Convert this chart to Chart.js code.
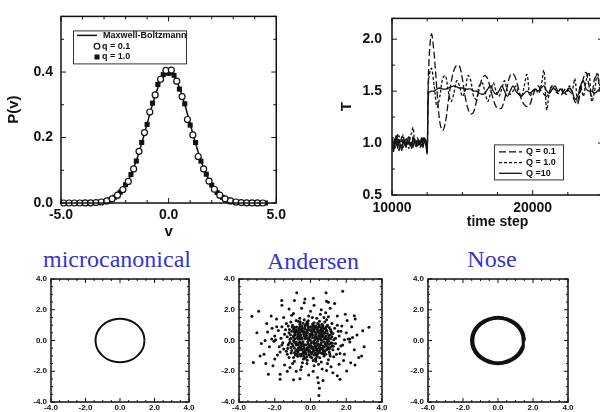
<!DOCTYPE html>
<html><head><meta charset="utf-8">
<script src="https://cdn.jsdelivr.net/npm/chart.js@4.4.1/dist/chart.umd.min.js"></script>
<style>
html,body{margin:0;padding:0;background:#fff;}
body{width:600px;height:412px;overflow:hidden;position:relative;}
canvas{position:absolute;}
.ttl{position:absolute;width:200px;text-align:center;font-family:'Liberation Serif','Times New Roman',serif;font-size:24px;line-height:27px;color:#3434d2;white-space:nowrap;}
</style></head>
<body>
<div class="ttl" style="left:17px;top:246px">microcanonical</div>
<div class="ttl" style="left:213px;top:248px">Andersen</div>
<div class="ttl" style="left:392px;top:246px">Nose</div>
<canvas id="pv" width="290" height="245" style="left:0;top:0"></canvas>
<canvas id="temp" width="350" height="245" style="left:300px;top:0"></canvas>
<canvas id="ph1" width="200" height="150" style="left:0;top:270px"></canvas>
<canvas id="ph2" width="200" height="150" style="left:200px;top:270px"></canvas>
<canvas id="ph3" width="200" height="150" style="left:400px;top:270px"></canvas>
<script>
// ---------- Panel 1: velocity distribution ----------
const mbVelocity = [-4.25,-4.0,-3.75,-3.5,-3.25,-3.0,-2.75,-2.5,-2.25,-2.0,-1.75,-1.5,-1.25,-1.0,-0.75,-0.5,-0.25,0,0.25,0.5,0.75,1.0,1.25,1.5,1.75,2.0,2.25,2.5,2.75,3.0,3.25,3.5,3.75,4.0,4.25,4.5];
const mbProb = [0.0001,0.0001,0.0004,0.0009,0.002,0.0044,0.0091,0.0175,0.0317,0.054,0.0863,0.1295,0.1826,0.242,0.3011,0.3521,0.3867,0.3989,0.3867,0.3521,0.3011,0.242,0.1826,0.1295,0.0863,0.054,0.0317,0.0175,0.0091,0.0044,0.002,0.0009,0.0004,0.0001,0.0001,0];
const q01Velocity = [-4.875,-4.625,-4.375,-4.125,-3.875,-3.625,-3.375,-3.125,-2.875,-2.625,-2.375,-2.125,-1.875,-1.625,-1.375,-1.125,-0.875,-0.625,-0.375,-0.125,0.125,0.375,0.625,0.875,1.125,1.375,1.625,1.875,2.125,2.375,2.625,2.875,3.125,3.375,3.625,3.875,4.125,4.375];
const q01Prob = [0,0,0,0,0.0002,0.0006,0.0013,0.003,0.0064,0.0127,0.024,0.041,0.066,0.104,0.158,0.215,0.278,0.33,0.378,0.405,0.406,0.372,0.325,0.255,0.208,0.142,0.104,0.067,0.042,0.024,0.0127,0.0064,0.003,0.0013,0.0006,0.0002,0.0001,0];
const q1Velocity = [-4.0,-3.75,-3.5,-3.25,-3.0,-2.75,-2.5,-2.25,-2.0,-1.75,-1.5,-1.25,-1.0,-0.75,-0.5,-0.25,0,0.25,0.5,0.75,1.0,1.25,1.5,1.75,2.0,2.25,2.5,2.75,3.0,3.25,3.5,3.75,4.0,4.25,4.5];
const q1Prob = [0.0001,0.0004,0.0009,0.002,0.0045,0.009,0.018,0.033,0.056,0.087,0.128,0.185,0.24,0.305,0.362,0.392,0.396,0.39,0.348,0.303,0.238,0.185,0.128,0.088,0.055,0.032,0.0175,0.009,0.0044,0.002,0.0009,0.0004,0.0001,0,0];
const pvXLabels = [-5, 0, 5];
const pvYLabels = [0, 0.2, 0.4];

// ---------- Panel 2: temperature vs time step ----------
const timeSteps = [10000,10100,10200,10300,10400,10500,10600,10700,10800,10900,11000,11100,11200,11300,11400,11500,11600,11700,11800,11900,12000,12100,12200,12300,12400,12500,
 12600,12800,13000,13200,13400,13600,13800,14000,14200,14400,
 14600,14800,15000,15200,15400,15600,15800,16000,16200,16400,
 16600,16800,17000,17200,17400,17600,17800,18000,18200,18400,
 18600,18800,19000,19200,19400,19600,19800,20000,20200,20400,
 20600,20800,21000,21200,21400,21600,21800,22000,22200,22400,
 22600,22800,23000,23200,23400,23600,23800,24000,24200,24400,
 24600,24800,25000];
const tempQ01 = [1.02,0.95,1.05,0.98,1.08,0.93,1.00,1.06,0.96,1.03,0.97,1.05,0.99,1.02,0.95,1.07,1.00,0.96,1.04,0.98,1.02,0.97,1.05,1.00,1.03,0.92,
 1.70,2.05,1.85,1.50,1.20,1.12,1.20,1.40,1.58,1.70,
 1.75,1.74,1.62,1.45,1.33,1.28,1.30,1.40,1.52,1.62,
 1.65,1.62,1.52,1.42,1.35,1.33,1.34,1.42,1.55,1.65,
 1.67,1.62,1.52,1.42,1.37,1.35,1.37,1.45,1.52,1.55,
 1.50,1.47,1.45,1.50,1.55,1.52,1.48,1.46,1.50,1.53,
 1.50,1.47,1.40,1.38,1.50,1.62,1.68,1.55,1.45,1.62,
 1.65,1.50,1.48];
const tempQ1 = [0.98,1.05,0.94,1.03,0.99,1.07,0.95,1.02,1.08,0.97,1.04,1.00,0.95,1.06,1.10,1.15,1.02,0.97,1.05,1.00,0.96,1.04,0.98,1.06,1.00,0.95,
 1.60,1.72,1.55,1.35,1.45,1.62,1.65,1.50,1.40,1.48,
 1.60,1.55,1.45,1.50,1.65,1.60,1.45,1.42,1.55,1.58,
 1.50,1.40,1.48,1.58,1.50,1.45,1.52,1.60,1.50,1.47,
 1.50,1.55,1.48,1.45,1.55,1.66,1.45,1.50,1.52,1.48,
 1.55,1.70,1.32,1.50,1.55,1.50,1.48,1.53,1.50,1.47,
 1.55,1.50,1.62,1.38,1.55,1.45,1.60,1.68,1.40,1.50,
 1.68,1.55,1.62];
const tempQ10 = [1.05,0.92,1.00,1.07,0.95,1.02,0.98,0.93,1.04,1.00,0.96,1.03,1.06,0.97,1.01,0.96,1.04,1.00,0.97,1.03,0.99,1.05,0.96,1.02,0.98,0.90,
 1.48,1.50,1.50,1.52,1.53,1.52,1.52,1.53,1.54,1.55,
 1.54,1.53,1.53,1.52,1.52,1.52,1.50,1.50,1.48,1.47,
 1.48,1.52,1.55,1.50,1.47,1.50,1.55,1.50,1.45,1.50,
 1.55,1.50,1.47,1.45,1.48,1.50,1.48,1.50,1.52,1.50,
 1.53,1.55,1.50,1.48,1.52,1.55,1.50,1.52,1.48,1.50,
 1.53,1.50,1.42,1.45,1.55,1.60,1.52,1.50,1.50,1.48,
 1.50,1.52,1.50];
const tXLabels = [10000, 20000];
const tYLabels = [0.5, 1.0, 1.5, 2.0];

// ---------- Panels 3-5: phase space ----------
const microX = [1.42,1.37,1.23,1.0,0.71,0.37,0,-0.37,-0.71,-1.0,-1.23,-1.37,-1.42,-1.37,-1.23,-1.0,-0.71,-0.37,0,0.37,0.71,1.0,1.23,1.37,1.42];
const microY = [0,0.37,0.71,1.0,1.23,1.37,1.42,1.37,1.23,1.0,0.71,0.37,0,-0.37,-0.71,-1.0,-1.23,-1.37,-1.42,-1.37,-1.23,-1.0,-0.71,-0.37,0];
const noseX = [1.55,1.46,1.19,0.78,0.27,-0.27,-0.78,-1.19,-1.46,-1.55,-1.46,-1.19,-0.78,-0.27,0.27,0.78,1.19,1.46,
 1.47,1.38,1.13,0.74,0.25,-0.25,-0.73,-1.12,-1.37,-1.46,-1.37,-1.12,-0.73,-0.25,0.25,0.73,1.12,1.37,
 1.40,1.32,1.07,0.70,0.24,-0.24,-0.70,-1.07,-1.32,-1.40,-1.32,-1.07,-0.70,-0.24,0.24,0.70,1.07,1.32,1.52];
const noseY = [0,0.53,1.0,1.34,1.53,1.53,1.34,1.0,0.53,0,-0.53,-1.0,-1.34,-1.53,-1.53,-1.34,-1.0,-0.53,
 0,0.50,0.94,1.26,1.44,1.45,1.27,0.95,0.50,0,-0.50,-0.94,-1.26,-1.44,-1.44,-1.26,-0.94,-0.50,
 0,0.48,0.90,1.21,1.38,1.38,1.21,0.90,0.48,0,-0.48,-0.90,-1.21,-1.38,-1.38,-1.21,-0.90,-0.48,0];
const andersenPoints = [
[0.12,0.35],[-0.45,0.8],[0.9,-0.2],[-1.1,0.15],[0.33,-0.92],[-0.6,-0.4],[1.15,0.6],[-0.2,1.2],[0.55,0.1],[-0.85,-0.95],
[0.05,-0.15],[0.7,0.95],[-1.25,-0.3],[0.4,1.1],[-0.3,-1.15],[1.05,-0.75],[-0.7,0.45],[0.2,0.7],[-0.1,-0.6],[0.85,0.3],
[-0.5,0.1],[0.6,-0.55],[-0.95,0.75],[0.15,-1.3],[1.3,0.05],[-0.35,0.55],[0.45,-0.25],[-0.8,-0.1],[0.95,1.0],[-1.05,-0.65],
[0.25,0.05],[-0.15,0.95],[0.75,-1.0],[-0.6,1.05],[1.2,-0.35],[-0.25,-0.3],[0.5,0.5],[-1.2,0.5],[0.1,-0.8],[0.65,0.25],
[-0.4,-0.75],[0.9,0.65],[-0.75,0.2],[0.3,-0.45],[-0.05,0.4],[1.0,-0.05],[-0.9,-0.5],[0.4,0.85],[-0.55,-1.0],[0.8,-0.7],
[-0.2,0.15],[0.15,1.0],[-1.0,1.0],[0.6,-0.15],[-0.45,-0.2],[1.1,0.35],[-0.3,0.75],[0.0,-1.05],[0.7,0.6],[-1.15,-0.1],
[0.35,-0.65],[-0.65,0.65],[1.25,-0.6],[-0.1,-0.4],[0.5,1.25],[-0.85,0.35],[0.2,-0.2],[0.95,-0.4],[-0.5,-0.6],[0.05,0.6],
[-1.3,0.25],[0.75,0.1],[-0.25,-0.9],[0.45,0.3],[-0.7,-0.75],[1.05,0.85],[-0.15,1.1],[0.3,-1.15],[-0.95,0.0],[0.6,0.75],
[-0.35,0.3],[0.85,-0.9],[-0.6,0.9],[0.1,0.2],[1.15,-0.15],[-0.8,-0.3],[0.25,0.55],[-0.4,-1.2],[0.55,-0.8],[-1.05,0.6],
[0.0,0.0],[0.4,-0.05],[-0.2,0.6],[0.7,-0.35],[-0.55,0.35],[0.15,-0.55],[0.95,0.45],[-0.9,0.85],[0.3,0.95],[-0.1,-0.75],
[0.8,0.5],[-0.65,-0.15],[0.2,-0.95],[-0.3,1.0],[1.2,0.25],[-0.75,-0.6],[0.5,-0.4],[-0.05,0.25],[0.65,1.05],[-1.1,-0.45],
[0.35,0.15],[-0.45,0.6],[0.9,-0.6],[-0.15,-0.1],[0.1,0.8],[-0.85,0.55],[0.6,0.4],[-0.35,-0.5],[1.0,0.2],[-0.6,-0.9],
[0.25,-0.35],[-0.95,0.3],[0.45,0.65],[-0.2,-1.05],[0.75,-0.1],[-0.5,0.95],[0.05,-0.5],[1.1,-0.45],[-0.7,0.1],[0.3,0.4],
[-0.25,0.45],[0.85,0.75],[-1.2,-0.2],[0.15,-0.7],[0.55,0.2],[-0.4,-0.35],[0.7,-0.75],[-0.8,0.7],[0.0,0.9],[0.4,-0.85],
[-0.6,0.25],[1.05,-0.25],[-0.1,0.05],[0.65,-0.5],[-0.9,-0.8],[0.2,1.15],[-0.3,-0.65],[0.9,0.1],[-0.55,-0.45],[0.5,0.9],
[0.18,-0.05],[-0.28,0.22],[0.62,0.58],[-0.72,-0.28],[0.08,0.48],[-0.42,-0.08],[0.52,-0.62],[-0.12,0.82],[0.92,-0.08],[-0.88,0.12],
[0.28,0.28],[-0.58,0.52],[0.78,-0.42],[-0.18,-0.48],[0.38,-1.02],[-1.02,-0.22],[0.68,0.82],[-0.48,-0.88],[1.12,0.12],[-0.08,-0.92],
[0.42,0.58],[-0.78,0.88],[0.22,-0.62],[-0.32,0.12],[0.98,-0.52],[-0.62,-0.62],[0.12,1.08],[-1.12,0.38],[0.58,-0.28],[-0.22,0.32],
[0.82,0.18],[-0.52,0.72],[0.32,-0.18],[-0.98,-0.38],[0.48,1.02],[-0.38,-1.02],[1.22,-0.18],[-0.02,0.68],[0.72,-0.62],[-0.68,0.32],
[0.02,-0.32],[-0.82,-0.68],[0.88,0.88],[-0.12,-0.22],[0.52,0.38],[-1.18,0.72],[0.28,-1.22],[-0.42,1.12],[1.08,-0.88],[-0.58,-0.12],
[0.62,0.02],[-0.28,-0.78],[0.18,0.92],[-0.92,0.58],[0.82,-0.22],[-0.08,0.12],[0.38,0.72],[-0.72,-1.02],[1.18,0.48],[-0.32,0.88],
[0.12,-0.42],[-0.52,-0.32],[0.72,0.42],[-1.08,-0.82],[0.48,-0.48],[-0.18,0.52],[0.92,0.62],[-0.62,0.08],[0.28,-0.82],[-0.38,0.42],
[1.02,0.32],[-0.82,-0.18],[0.08,-1.12],[-0.12,1.28],[0.58,0.68],[-1.28,-0.52],[0.42,0.12],[-0.48,0.18],[0.78,-0.88],[-0.22,-0.62],
[0.32,0.48],[-0.68,-0.48],[1.28,-0.38],[-0.02,-0.72],[0.68,0.28],[-0.88,0.42],[0.22,0.18],[-0.32,-0.28],[0.88,-0.32],[-1.02,0.88],
[0.52,-1.12],[-0.58,1.22],[0.02,0.38],[-0.78,-0.88],[1.12,0.72],[-0.42,0.62],[0.38,-0.32],[-0.18,-1.28],[0.98,0.02],[-0.92,-0.08],
[0.15,0.62],[-0.65,0.78],[0.45,-0.72],[-0.05,-0.35],[0.75,0.78],[-0.35,-0.85],[1.05,-0.55],[-0.95,0.22],[0.25,0.82],[-0.55,-0.25],
[0.65,-0.85],[-0.15,0.72],[0.85,0.12],[-0.75,0.58],[0.35,-0.55],[-0.45,-0.58],[0.55,0.88],[-1.15,0.08],[0.05,-0.88],[-0.25,1.05],
[1.35,0.8],[-1.4,0.7],[1.45,-0.9],[-1.3,-0.9],[0.9,1.35],[-0.8,1.3],[0.6,-1.4],[-0.9,-1.35],[1.6,0.3],[-1.55,-0.15],
[0.1,1.5],[-0.2,-1.5],[1.4,-0.2],[-1.45,0.4],[1.2,1.1],[-1.1,1.2],[1.0,-1.25],[-1.2,-1.1],[0.35,1.45],[-0.45,-1.45],
[1.55,-0.55],[-1.6,0.9],[0.75,1.5],[-0.6,1.45],[1.3,-1.05],[-1.5,-0.55],[0.45,-1.55],[-0.1,1.6],[1.7,0.6],[-1.65,0.15],
[0.95,-1.5],[-1.0,-1.5],[1.5,1.0],[-1.35,1.1],[0.2,-1.65],[1.8,-0.3],[-1.75,-0.4],[0.55,1.7],[-0.5,-1.7],[1.25,0.45],
[-1.25,0.95],[1.1,-1.0],[-0.95,-1.1],[0.8,1.2],[-0.7,1.25],[1.4,0.15],[-1.35,-0.7],[0.3,-1.35],[-0.35,1.35],[1.65,-0.85],
[2.0,0.5],[-2.0,0.3],[1.9,-0.9],[-1.85,-0.95],[0.6,2.0],[-0.5,2.1],[0.9,-1.95],[-0.8,-2.0],[2.2,-0.1],[-2.15,0.8],
[1.5,1.6],[-1.5,1.5],[1.6,-1.55],[-1.45,-1.6],[2.3,0.9],[-2.3,-0.4],[0.2,2.3],[-0.1,-2.25],[2.05,1.3],[-1.9,1.4],
[1.85,-1.3],[-2.0,-1.2],[1.1,2.1],[-1.2,2.05],[1.25,-2.1],[-1.3,-2.0],[2.45,-0.6],[-2.4,0.55],[0.4,-2.4],[-0.35,2.45],
[1.75,0.95],[-1.8,0.65],[1.7,-0.35],[-1.7,-0.75],[0.85,1.8],[-0.95,1.75],[0.65,-1.85],[-0.55,-1.9],[2.1,0.1],[-2.05,-0.05],
[1.95,1.7],[-2.2,1.6],[2.25,-1.45],[-2.1,-1.65],[1.35,2.4],[-1.6,2.3],[1.5,-2.3],[-1.7,-2.2],[2.6,0.35],[-2.6,-0.9],
[0.0,1.9],[0.15,-2.0],[1.0,1.55],[-1.05,1.65],[1.15,-1.7],[-1.15,-1.75],[1.9,0.05],[-1.95,0.05],[2.35,0.2],[-2.45,1.1],
[2.7,-1.1],[-2.75,-0.2],[0.9,2.55],[-0.9,2.6],[0.7,-2.6],[-0.95,-2.55],[2.5,1.4],[-2.5,-1.5],[1.55,0.6],[-1.6,-0.3],
[-3.28,1.57],[-0.77,3.1],[0.87,3.1],[1.8,3.2],[-1.61,2.6],[-0.31,2.7],[0.16,2.75],[1.0,2.49],[2.45,1.61],[2.92,0.63],
[3.27,0.86],[-3.2,-1.43],[-2.82,-1.0],[-2.36,-2.2],[2.86,-1.0],[2.49,-1.6],[1.65,-2.52],[0.44,-2.74],[0.47,-3.57],[-1.7,-2.52],
[-0.59,-2.48],[2.02,-1.98],[-2.54,0.0],[-2.17,0.09],[-1.89,0.9],[2.2,0.09],[-3.0,0.5],[3.0,-0.4],[0.5,-3.1],[-2.9,1.9]
];
const phaseLabels = [-4, -2, 0, 2, 4];

// ---------- helpers ----------
const INK = '#111';
const SANS = "'Liberation Sans', Arial, sans-serif";
const pts = (xs, ys) => xs.map((x, i) => ({x: x, y: ys[i]}));
const labelAt = (list, digits) => v => list.some(l => Math.abs(l - v) < 1e-6) ? Number(v).toFixed(digits) : '';

const frameTicks = {
  id: 'frameTicks',
  afterDatasetsDraw(chart, args, o) {
    const {ctx, chartArea: a, scales} = chart;
    const x = scales.x, y = scales.y;
    ctx.save();
    ctx.strokeStyle = INK;
    ctx.lineWidth = o.frameWidth;
    ctx.strokeRect(a.left, a.top, a.right - a.left, a.bottom - a.top);
    ctx.lineWidth = o.tickWidth;
    ctx.beginPath();
    x.ticks.forEach(t => {
      const p = x.getPixelForValue(t.value);
      const L = t.label ? o.major : o.minor;
      ctx.moveTo(p, a.bottom); ctx.lineTo(p, a.bottom - L);
      ctx.moveTo(p, a.top); ctx.lineTo(p, a.top + L);
    });
    y.ticks.forEach(t => {
      const p = y.getPixelForValue(t.value);
      const L = t.label ? o.major : o.minor;
      ctx.moveTo(a.left, p); ctx.lineTo(a.left + L, p);
      ctx.moveTo(a.right, p); ctx.lineTo(a.right - L, p);
    });
    ctx.stroke();
    ctx.restore();
  }
};

const boxLegend = {
  id: 'boxLegend',
  afterDraw(chart, args, o) {
    if (!o || !o.items) return;
    const {ctx, chartArea: a} = chart;
    const bx = a.left + o.dx, by = a.top + o.dy;
    ctx.save();
    ctx.fillStyle = '#fff';
    ctx.fillRect(bx, by, o.w, o.h);
    ctx.strokeStyle = '#333';
    ctx.lineWidth = 1;
    ctx.strokeRect(bx + 0.5, by + 0.5, o.w, o.h);
    ctx.font = o.font;
    ctx.textBaseline = 'middle';
    o.items.forEach((idx, i) => {
      const ds = chart.data.datasets[idx];
      const yy = by + o.row0 + i * o.rowH;
      let tx;
      if (ds.legendKind === 'line') {
        ctx.save();
        ctx.strokeStyle = INK;
        ctx.lineWidth = ds.borderWidth;
        ctx.setLineDash(ds.borderDash || []);
        ctx.beginPath();
        ctx.moveTo(bx + o.lineX0, yy); ctx.lineTo(bx + o.lineX1, yy);
        ctx.stroke();
        ctx.restore();
        tx = bx + o.textX;
      } else {
        const mx = bx + o.markX;
        ctx.save();
        ctx.lineWidth = 1.2;
        ctx.strokeStyle = INK;
        if (ds.pointStyle === 'rect') {
          ctx.fillStyle = INK;
          ctx.fillRect(mx - 2.5, yy - 2.5, 5, 5);
        } else {
          ctx.fillStyle = '#fff';
          ctx.beginPath(); ctx.arc(mx, yy, 2.8, 0, Math.PI * 2); ctx.fill(); ctx.stroke();
        }
        ctx.restore();
        tx = bx + o.markTextX;
      }
      ctx.fillStyle = INK;
      ctx.fillText(ds.label, tx, yy);
    });
    ctx.restore();
  }
};

const tickFont = size => ({family: SANS, size: size, weight: 'bold'});
const titleFont = size => ({family: SANS, size: size, weight: 'bold'});
const noGrid = {display: false, drawTicks: false, tickLength: 0};
const baseOpts = (padding) => ({
  responsive: false, animation: false, events: [],
  layout: {padding: padding},
  plugins: {legend: {display: false}, tooltip: {enabled: false}}
});

// ---------- Chart 1 ----------
const o1 = baseOpts({top: 14, right: 10, left: 0, bottom: 0});
o1.plugins.frameTicks = {frameWidth: 1.5, tickWidth: 1, major: 5, minor: 3};
o1.plugins.boxLegend = {items: [2, 0, 1], dx: 12, dy: 14, w: 113, h: 33, row0: 5, rowH: 10.8,
  lineX0: 4, lineX1: 24, textX: 30, markX: 24, markTextX: 29, font: 'bold 9px ' + SANS};
o1.scales = {
  x: {type: 'linear', min: -5, max: 5, grid: noGrid, border: {display: false},
      ticks: {stepSize: 1, autoSkip: false, maxRotation: 0, padding: 4, color: INK, font: tickFont(14), callback: labelAt(pvXLabels, 1)},
      title: {display: true, text: 'v', color: INK, font: titleFont(15), padding: {top: 0, bottom: 4}},
      afterFit: s => { s.height = 42; }},
  y: {type: 'linear', min: 0, max: 0.57, grid: noGrid, border: {display: false},
      ticks: {stepSize: 0.1, autoSkip: false, padding: 8, color: INK, font: tickFont(14), callback: labelAt(pvYLabels, 1)},
      title: {display: true, text: 'P(v)', color: INK, font: titleFont(15), padding: {top: 5, bottom: 0}},
      afterFit: s => { s.width = 61; }}
};
new Chart(document.getElementById('pv'), {
  type: 'scatter',
  data: {datasets: [
    {label: 'q = 0.1', data: pts(q01Velocity, q01Prob), pointStyle: 'circle', pointRadius: 3, pointBorderWidth: 1.2,
     pointBorderColor: INK, pointBackgroundColor: '#fff', showLine: false, clip: false, legendKind: 'mark'},
    {label: 'q = 1.0', data: pts(q1Velocity, q1Prob), pointStyle: 'rect', pointRadius: 3.6, pointBorderWidth: 0,
     pointBackgroundColor: INK, pointBorderColor: INK, showLine: false, clip: false, legendKind: 'mark'},
    {label: 'Maxwell-Boltzmann', data: pts(mbVelocity, mbProb), showLine: true, borderColor: INK, borderWidth: 1.5,
     pointRadius: 0, tension: 0.3, legendKind: 'line'}
  ]},
  options: o1,
  plugins: [frameTicks, boxLegend]
});

// ---------- Chart 2 ----------
const o2 = baseOpts({top: 11, right: 47, left: 0, bottom: 0});
o2.plugins.frameTicks = {frameWidth: 1.5, tickWidth: 1, major: 5, minor: 3};
o2.plugins.boxLegend = {items: [0, 1, 2], dx: 102, dy: 126, w: 69, h: 35, row0: 7.5, rowH: 10.7,
  lineX0: 5, lineX1: 28, textX: 32, markX: 0, markTextX: 0, font: 'bold 9px ' + SANS};
o2.scales = {
  x: {type: 'linear', min: 10000, max: 25000, grid: noGrid, border: {display: false},
      ticks: {stepSize: 2500, autoSkip: false, maxRotation: 0, padding: 5, color: INK, font: tickFont(14), callback: labelAt(tXLabels, 0)},
      title: {display: true, text: 'time step', color: INK, font: titleFont(14), padding: {top: 0, bottom: 14}},
      afterFit: s => { s.height = 50; }},
  y: {type: 'linear', min: 0.5, max: 2.2, grid: noGrid, border: {display: false},
      ticks: {stepSize: 0.25, autoSkip: false, padding: 10, color: INK, font: tickFont(14), callback: labelAt(tYLabels, 1)},
      title: {display: true, text: 'T', color: INK, font: titleFont(15), padding: {top: 38, bottom: 0}},
      afterFit: s => { s.width = 92; }}
};
const lineDs = (label, ys, dash) => ({label: label, data: pts(timeSteps, ys), borderColor: INK, borderWidth: 1.3,
  borderDash: dash, pointRadius: 0, tension: 0.35, fill: false, legendKind: 'line'});
new Chart(document.getElementById('temp'), {
  type: 'line',
  data: {datasets: [
    lineDs('Q = 0.1', tempQ01, [7, 3]),
    lineDs('Q = 1.0', tempQ1, [3, 2]),
    lineDs('Q =10', tempQ10, [])
  ]},
  options: o2,
  plugins: [frameTicks, boxLegend]
});

// ---------- Phase space charts ----------
function phaseChart(id, yWidth, rightPad, datasets) {
  const o = baseOpts({top: 9, right: rightPad, left: 0, bottom: 0});
  o.plugins.frameTicks = {frameWidth: 1.5, tickWidth: 1, major: 4, minor: 2};
  o.scales = {
    x: {type: 'linear', min: -4, max: 4, grid: noGrid, border: {display: false},
        ticks: {stepSize: 0.5, autoSkip: false, maxRotation: 0, padding: 1, color: INK, font: tickFont(8), callback: labelAt(phaseLabels, 1)},
        afterFit: s => { s.height = 18; }},
    y: {type: 'linear', min: -4, max: 4, grid: noGrid, border: {display: false},
        ticks: {stepSize: 0.5, autoSkip: false, padding: 4, color: INK, font: tickFont(8), callback: labelAt(phaseLabels, 1)},
        afterFit: s => { s.width = yWidth; }}
  };
  new Chart(document.getElementById(id), {type: 'scatter', data: {datasets: datasets}, options: o, plugins: [frameTicks]});
}
phaseChart('ph1', 51, 11, [
  {label: 'microcanonical', data: pts(microX, microY), showLine: true, borderColor: INK, borderWidth: 2, pointRadius: 0, tension: 0.4}
]);
phaseChart('ph2', 39, 18, [
  {label: 'Andersen', data: andersenPoints.map(p => ({x: p[0], y: p[1]})), showLine: false,
   pointRadius: 1.5, pointBorderWidth: 0, pointBackgroundColor: INK}
]);
phaseChart('ph3', 28, 32, [
  {label: 'Nose', data: pts(noseX, noseY), showLine: true, borderColor: INK, borderWidth: 1.7, pointRadius: 0, tension: 0.4}
]);
</script>
</body></html>
